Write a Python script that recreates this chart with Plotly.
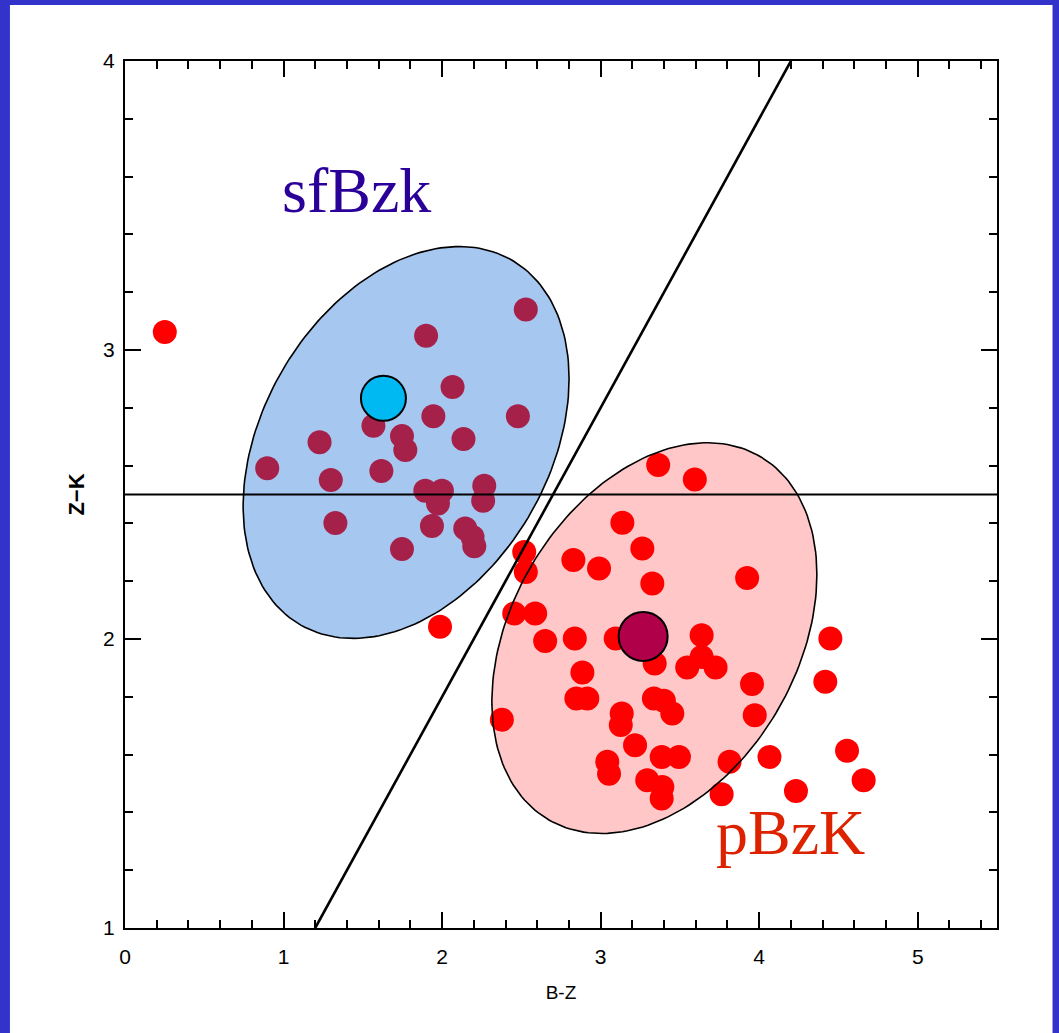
import numpy as np
import plotly.graph_objects as go

# ---------------- data ----------------
# galaxies inside the star-forming (sfBzK) region
sf_x = [2.528, 1.899, 2.066, 1.945, 2.478, 1.567, 1.747, 1.768, 1.227, 2.135,
        0.897, 1.298, 1.617, 1.894, 1.999, 1.974, 2.266, 2.259, 1.327, 1.936,
        2.146, 2.192, 2.203, 1.747]
sf_y = [3.140, 3.049, 2.872, 2.771, 2.771, 2.738, 2.702, 2.654, 2.681, 2.692,
        2.591, 2.550, 2.581, 2.513, 2.513, 2.469, 2.530, 2.478, 2.401, 2.391,
        2.382, 2.353, 2.321, 2.311]
# galaxies in / around the passive (pBzK) region and outliers
pe_x = [0.251, 1.987,
        3.363, 3.594, 3.137, 3.263, 2.828, 2.990, 3.326, 3.924, 2.518, 2.528,
        2.455, 2.587, 2.650, 2.837, 3.095, 3.637, 3.341, 3.546, 3.637, 3.725,
        2.885, 3.955, 2.847, 2.916, 3.336, 3.399, 3.452, 3.133, 3.127, 3.972,
        2.377, 3.217, 3.042, 3.053, 3.385, 3.494, 3.294, 3.389, 3.385, 3.813,
        3.763, 4.065, 4.232, 4.554, 4.659, 4.449, 4.417]
pe_y = [3.062, 2.042,
        2.602, 2.552, 2.402, 2.313, 2.273, 2.244, 2.192, 2.211, 2.301, 2.232,
        2.088, 2.088, 1.993, 2.002, 2.002, 2.013, 1.915, 1.901, 1.938, 1.901,
        1.884, 1.844, 1.794, 1.794, 1.794, 1.786, 1.742, 1.742, 1.702, 1.736,
        1.721, 1.632, 1.575, 1.534, 1.592, 1.592, 1.511, 1.488, 1.448, 1.575,
        1.463, 1.592, 1.474, 1.613, 1.511, 2.002, 1.852]
# mean positions of the two populations
sf_mean_x = [1.630]
sf_mean_y = [2.833]
pe_mean_x = [3.268]
pe_mean_y = [2.009]
# selection lines
cut_x = [1.2, 4.2]          # (z-K) = (B-z) - 0.2
cut_y = [1.0, 4.0]
horiz_x = [0.0, 5.5]        # (z-K) = 2.5
horiz_y = [2.5, 2.5]
# ellipse regions: centre x, centre y, half-width, half-height, tilt phase (deg)
sf_ell = (1.773, 2.680, 1.028, 0.678, 71.0)
pe_ell = (3.339, 2.003, 1.025, 0.676, 71.0)
x_ticks = [0, 1, 2, 3, 4, 5]
y_ticks = [1, 2, 3, 4]


def ellipse(p, n=200):
    cx, cy, ax, ay, ph = p
    t = np.linspace(0, 2 * np.pi, n)
    return cx + ax * np.cos(t), cy + ay * np.cos(t - np.deg2rad(ph))


fig = go.Figure()

# all galaxies
fig.add_trace(go.Scatter(x=sf_x + pe_x, y=sf_y + pe_y, mode="markers",
                         marker=dict(size=24, color="#ff0000", line=dict(width=0)),
                         hoverinfo="x+y", showlegend=False))

# ellipses (semi-transparent, drawn over the points)
ex, ey = ellipse(sf_ell)
fig.add_trace(go.Scatter(x=ex, y=ey, mode="lines", fill="toself",
                         fillcolor="rgba(0,95,210,0.35)",
                         line=dict(color="black", width=1.6),
                         hoverinfo="skip", showlegend=False))
ex, ey = ellipse(pe_ell)
fig.add_trace(go.Scatter(x=ex, y=ey, mode="lines", fill="toself",
                         fillcolor="rgba(255,0,0,0.22)",
                         line=dict(color="black", width=1.6),
                         hoverinfo="skip", showlegend=False))

# selection lines
fig.add_trace(go.Scatter(x=horiz_x, y=horiz_y, mode="lines",
                         line=dict(color="black", width=2),
                         hoverinfo="skip", showlegend=False))
fig.add_trace(go.Scatter(x=cut_x, y=cut_y, mode="lines",
                         line=dict(color="black", width=2.6),
                         hoverinfo="skip", showlegend=False))

# mean positions
fig.add_trace(go.Scatter(x=sf_mean_x, y=sf_mean_y, mode="markers",
                         marker=dict(size=45, color="#00b8f2",
                                     line=dict(color="black", width=2)),
                         showlegend=False))
fig.add_trace(go.Scatter(x=pe_mean_x, y=pe_mean_y, mode="markers",
                         marker=dict(size=49, color="#b0004a",
                                     line=dict(color="black", width=2)),
                         showlegend=False))

fig.add_annotation(x=1.46, y=3.553, text="sfBzk", showarrow=False,
                   xanchor="center", yanchor="middle",
                   font=dict(family="Liberation Serif, Times New Roman, serif",
                             size=64, color="#2a0099"))
fig.add_annotation(x=4.199, y=1.331, text="pBzK", showarrow=False,
                   xanchor="center", yanchor="middle",
                   font=dict(family="Liberation Serif, Times New Roman, serif",
                             size=64, color="#dd2200"))

# white page inside the blue frame
fig.add_shape(type="rect", xref="paper", yref="paper",
              x0=(10 - 125) / 871.5, x1=(1052 - 125) / 871.5,
              y0=-0.2, y1=(927.7 - 5) / 866.7,
              fillcolor="white", line=dict(width=0), layer="below")

axis_common = dict(showgrid=False, zeroline=False, showline=True,
                   linecolor="black", linewidth=2.2, mirror="ticks",
                   ticks="inside", ticklen=16, tickwidth=2, tickcolor="black",
                   tickfont=dict(family="Liberation Sans, Arial, sans-serif",
                                 size=21, color="black"),
                   minor=dict(dtick=0.2, ticks="inside", ticklen=8,
                              tickwidth=2, tickcolor="black"))

fig.update_xaxes(range=[0, 5.5], tickvals=x_ticks, ticklabelstandoff=9,
                 title=dict(text="B-Z", standoff=18,
                            font=dict(family="Liberation Sans Narrow, Liberation Sans, sans-serif",
                                      size=19, color="black")),
                 **axis_common)
fig.update_yaxes(range=[1, 4], tickvals=y_ticks, ticklabelstandoff=4,
                 title=dict(text="<b>Z\u2212K</b>", standoff=12,
                            font=dict(family="Liberation Sans, Arial, sans-serif",
                                      size=22, color="black")),
                 **axis_common)

fig.update_layout(width=1059, height=1033,
                  margin=dict(l=125, r=62, t=61, b=105, pad=0),
                  paper_bgcolor="#3333cc", plot_bgcolor="white",
                  showlegend=False)

fig.write_html("out.html", config={"displayModeBar": False},
               post_script="document.body.style.margin='0';"
                           "document.body.style.overflow='hidden';")
